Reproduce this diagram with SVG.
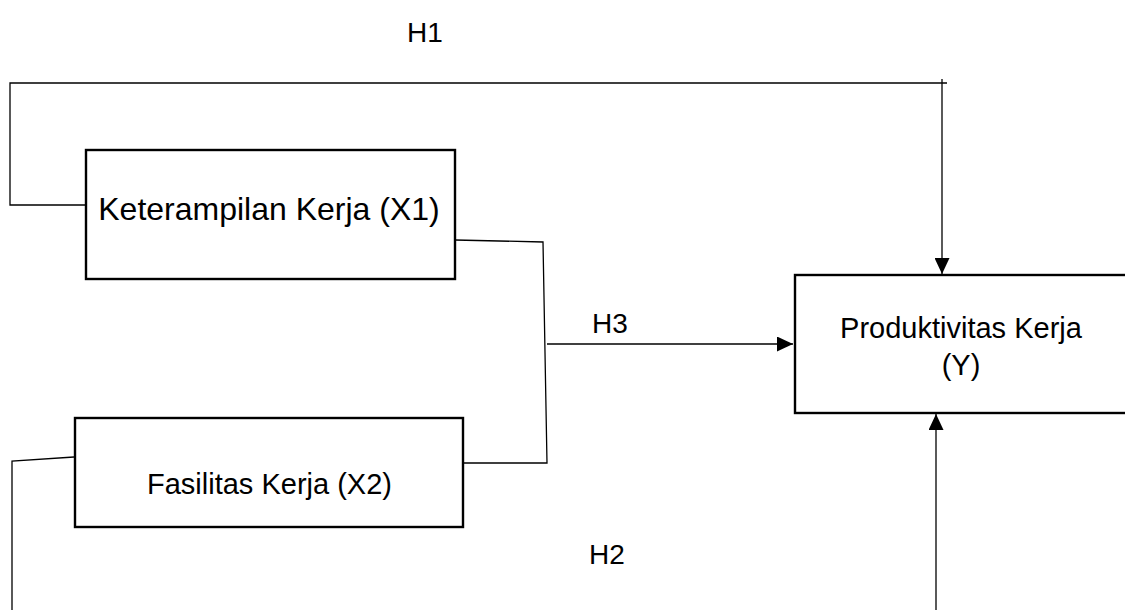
<svg xmlns="http://www.w3.org/2000/svg" width="1125" height="610" viewBox="0 0 1125 610">
<style>
.box{fill:#fff;stroke:#000;stroke-width:2.4}
.ln{fill:none;stroke:#000;stroke-width:1.3}
.t{font-family:"Liberation Sans",Arial,sans-serif;font-size:29px;fill:#000}
.big{font-size:32px}
.h{font-size:28px}
</style>
<defs>
<marker id="ah" markerWidth="16" markerHeight="15" refX="16" refY="7.5" orient="auto" markerUnits="userSpaceOnUse">
<path d="M0,0 L16,7.5 L0,15 Z" fill="#000"/>
</marker>
</defs>
<rect width="1125" height="610" fill="#fff"/>
<g id="connectors">
<polyline class="ln" points="86,205 10,205 10,83 947,83"/>
<line class="ln" x1="942" y1="79" x2="942" y2="274" marker-end="url(#ah)"/>
<polyline class="ln" points="455,240 543,242 547,463 463,463"/>
<line class="ln" x1="547" y1="344" x2="793" y2="344" marker-end="url(#ah)"/>
<polyline class="ln" points="12,610 12,461 74,457"/>
<line class="ln" x1="936" y1="610" x2="936" y2="414" marker-end="url(#ah)"/>
</g>
<g id="x1">
<rect class="box" x="86" y="150" width="369" height="129"/>
<text class="t big" x="269" y="220" text-anchor="middle">Keterampilan Kerja (X1)</text>
</g>
<g id="x2">
<rect class="box" x="75" y="418" width="388" height="109"/>
<text class="t" x="269.5" y="494" text-anchor="middle">Fasilitas Kerja (X2)</text>
</g>
<g id="y">
<rect class="box" x="795" y="275" width="340" height="138"/>
<text class="t" x="961" y="338" text-anchor="middle">Produktivitas Kerja</text>
<text class="t" x="961" y="375" text-anchor="middle">(Y)</text>
</g>
<g id="labels">
<text class="t h" x="425" y="42" text-anchor="middle">H1</text>
<text class="t h" x="610" y="333" text-anchor="middle">H3</text>
<text class="t h" x="607" y="564" text-anchor="middle">H2</text>
</g>
</svg>
